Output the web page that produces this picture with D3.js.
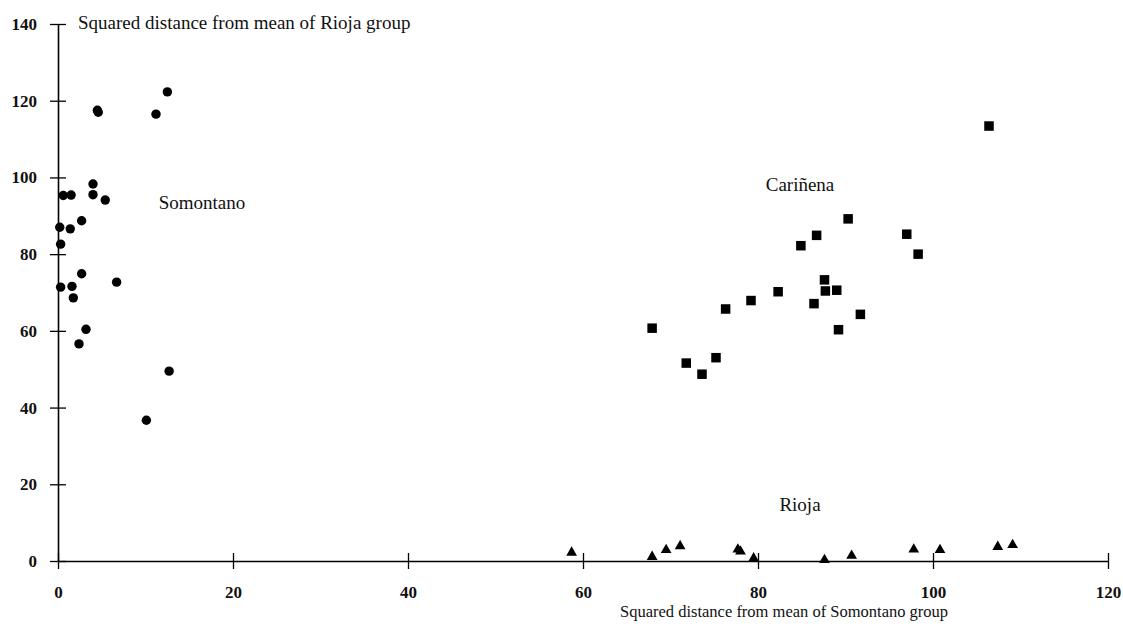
<!DOCTYPE html>
<html>
<head>
<meta charset="utf-8">
<script src="https://cdn.jsdelivr.net/npm/d3@7"></script>
<style>
  html, body { margin: 0; padding: 0; background: #fff; }
  svg { display: block; font-family: "Liberation Serif", "Times New Roman", serif; }
</style>
</head>
<body>
<svg id="chart" width="1123" height="626"></svg>
<script>
// ---- data ----
const xTicks = [0, 20, 40, 60, 80, 100, 120];
const yTicks = [0, 20, 40, 60, 80, 100, 120, 140];

const somontanoX = [12.5, 4.5, 4.6, 11.2, 4.0, 0.6, 1.5, 4.0, 5.4, 0.2, 1.4, 2.7, 0.3, 2.7, 0.3, 1.6, 1.75, 6.7, 3.2, 2.4, 12.7, 10.1];
const somontanoY = [122.3, 117.5, 117.0, 116.5, 98.3, 95.3, 95.4, 95.5, 94.1, 87.0, 86.6, 88.7, 82.6, 74.9, 71.4, 71.6, 68.6, 72.7, 60.4, 56.6, 49.5, 36.7];

const carinenaX = [67.9, 71.8, 73.6, 75.2, 76.3, 79.2, 82.3, 84.9, 86.7, 90.3, 87.6, 87.7, 89.0, 86.4, 91.7, 89.2, 97.0, 98.3, 106.4];
const carinenaY = [60.7, 51.6, 48.7, 53.0, 65.7, 67.9, 70.2, 82.2, 84.9, 89.2, 73.3, 70.4, 70.6, 67.1, 64.3, 60.3, 85.2, 80.0, 113.4];

const riojaX = [58.7, 67.9, 69.5, 71.1, 77.7, 78.0, 79.5, 87.6, 90.7, 97.8, 100.8, 107.4, 109.1];
const riojaY = [2.2, 1.1, 2.9, 3.9, 3.0, 2.5, 0.7, 0.3, 1.4, 3.0, 2.9, 3.7, 4.2];

const groupLabels = [
  { name: "Somontano", x: 11.5, y: 91.8, anchor: "start" },
  { name: "Cariñena", x: 84.8, y: 96.5, anchor: "middle" },
  { name: "Rioja", x: 84.8, y: 13.0, anchor: "middle" }
];

const xTitle = "Squared distance from mean of Somontano group";
const yTitle = "Squared distance from mean of Rioja group";

// ---- drawing ----
const svg = d3.select("#chart");
const x = d3.scaleLinear().domain([0, 120]).range([58, 1108]);
const y = d3.scaleLinear().domain([0, 140]).range([561, 24]);

const zip = (xs, ys) => xs.map((v, i) => ({ x: v, y: ys[i] }));

// y axis
const yAxis = svg.append("g")
  .attr("transform", `translate(${x(0)},0)`)
  .call(d3.axisLeft(y).tickValues(yTicks).tickSize(8).tickSizeOuter(0).tickPadding(13));
yAxis.selectAll(".tick line").attr("x1", 8).attr("stroke-width", 1.3);
yAxis.select(".domain").attr("stroke-width", 1.6);
yAxis.selectAll(".tick text")
  .attr("font-family", "Liberation Serif")
  .attr("font-size", 17).attr("font-weight", "bold").attr("fill", "#111");

// x axis
const xAxis = svg.append("g")
  .attr("transform", `translate(0,${y(0)})`)
  .call(d3.axisBottom(x).tickValues(xTicks).tickSize(8).tickSizeOuter(0).tickPadding(17));
xAxis.selectAll(".tick line").attr("y1", -8).attr("stroke-width", 1.3);
xAxis.select(".domain").attr("stroke-width", 1.6);
xAxis.selectAll(".tick text")
  .attr("font-family", "Liberation Serif")
  .attr("font-size", 17).attr("font-weight", "bold").attr("fill", "#111");

// axis titles
svg.append("text")
  .attr("x", 78).attr("y", 29)
  .attr("font-size", 19).attr("fill", "#111")
  .text(yTitle);
svg.append("text")
  .attr("x", 620).attr("y", 617)
  .attr("font-size", 16.5).attr("fill", "#111")
  .text(xTitle);

// Somontano circles
svg.append("g").selectAll("circle")
  .data(zip(somontanoX, somontanoY))
  .join("circle")
  .attr("cx", d => x(d.x)).attr("cy", d => y(d.y))
  .attr("r", 4.7).attr("fill", "#000");

// Cariñena squares
const sq = 9.5;
svg.append("g").selectAll("rect")
  .data(zip(carinenaX, carinenaY))
  .join("rect")
  .attr("x", d => x(d.x) - sq / 2).attr("y", d => y(d.y) - sq / 2)
  .attr("width", sq).attr("height", sq).attr("fill", "#000");

// Rioja triangles
const tri = d3.symbol().type(d3.symbolTriangle).size(50);
svg.append("g").selectAll("path")
  .data(zip(riojaX, riojaY))
  .join("path")
  .attr("transform", d => `translate(${x(d.x)},${y(d.y)})`)
  .attr("d", tri).attr("fill", "#000");

// group labels
svg.append("g").selectAll("text")
  .data(groupLabels)
  .join("text")
  .attr("x", d => x(d.x)).attr("y", d => y(d.y))
  .attr("text-anchor", d => d.anchor)
  .attr("font-size", 19).attr("fill", "#111")
  .text(d => d.name);
</script>
</body>
</html>
